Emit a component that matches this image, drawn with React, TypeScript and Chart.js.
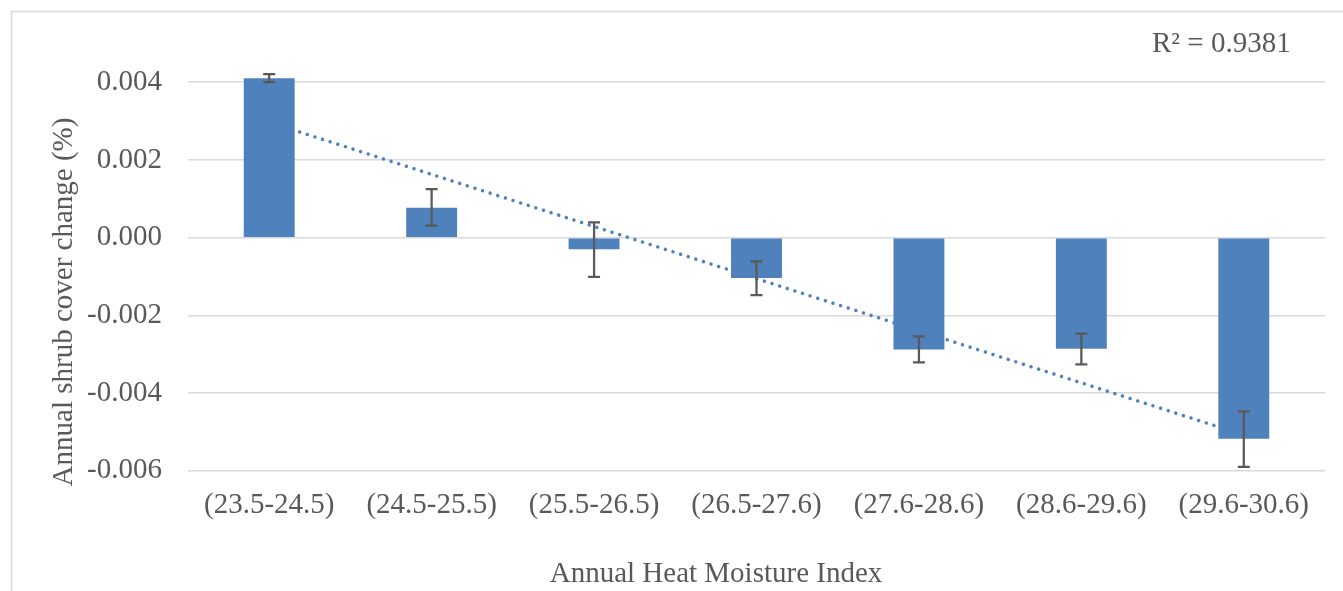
import { useEffect, useRef } from "react";
import { Chart, registerables } from "chart.js";

Chart.register(...registerables);

const categories = [
  "(23.5-24.5)",
  "(24.5-25.5)",
  "(25.5-26.5)",
  "(26.5-27.6)",
  "(27.6-28.6)",
  "(28.6-29.6)",
  "(29.6-30.6)",
];
const shrubChange = [0.0041, 0.00077, -0.0003, -0.00104, -0.00288, -0.00286, -0.00518];
const errorHigh = [0.00421, 0.00125, 0.00039, -0.00061, -0.00254, -0.00247, -0.00447];
const errorLow = [0.004, 0.00031, -0.00101, -0.00148, -0.00321, -0.00326, -0.0059];
const trendLine = [0.00297, null, null, null, null, null, -0.00508];
const yTicks = [-0.006, -0.004, -0.002, 0, 0.002, 0.004];
const yMin = -0.006;
const yMax = 0.005;
const rSquaredLabel = "R² = 0.9381";
const xTitle = "Annual Heat Moisture Index";
const yTitle = "Annual shrub cover change (%)";

const FONT = "'Liberation Serif', 'Times New Roman', serif";
const TEXT = "#595959";
const BLUE = "#4F81BD";

export default function App() {
  const ref = useRef<HTMLCanvasElement | null>(null);

  useEffect(() => {
    const canvas = ref.current;
    if (!canvas) return;

    const framePlugin = {
      id: "frame",
      beforeDraw(chart: any) {
        const ctx = chart.ctx;
        ctx.save();
        ctx.fillStyle = "#ffffff";
        ctx.fillRect(0, 0, chart.width, chart.height);
        ctx.strokeStyle = "#d9d9d9";
        ctx.lineWidth = 1.5;
        ctx.strokeRect(11.5, 11.5, chart.width + 20, chart.height + 20);
        ctx.restore();
      },
      afterDatasetsDraw(chart: any) {
        const ctx = chart.ctx;
        const meta = chart.getDatasetMeta(1);
        const yScale = chart.scales.y;
        ctx.save();
        ctx.strokeStyle = "#595959";
        ctx.lineWidth = 2.25;
        ctx.lineCap = "butt";
        meta.data.forEach((el: any, i: number) => {
          const x = el.x;
          const yh = yScale.getPixelForValue(errorHigh[i]);
          const yl = yScale.getPixelForValue(errorLow[i]);
          ctx.beginPath();
          ctx.moveTo(x, yh);
          ctx.lineTo(x, yl);
          ctx.moveTo(x - 6, yh);
          ctx.lineTo(x + 6, yh);
          ctx.moveTo(x - 6, yl);
          ctx.lineTo(x + 6, yl);
          ctx.stroke();
        });
        ctx.restore();
      },
      afterDraw(chart: any) {
        const ctx = chart.ctx;
        ctx.save();
        ctx.fillStyle = TEXT;
        ctx.font = `29px ${FONT}`;
        ctx.textBaseline = "alphabetic";
        ctx.textAlign = "left";
        ctx.fillText(rSquaredLabel, 1152, 52);
        ctx.textAlign = "center";
        ctx.fillText(xTitle, 716, 582);
        ctx.translate(72, 302);
        ctx.rotate(-Math.PI / 2);
        ctx.fillText(yTitle, 0, 0);
        ctx.restore();
      },
    };

    const chart = new Chart(canvas, {
      type: "bar",
      data: {
        labels: categories,
        datasets: [
          {
            type: "line",
            label: "Trend",
            data: trendLine as any,
            borderColor: BLUE,
            borderWidth: 3.5,
            borderDash: [0.001, 8],
            borderCapStyle: "round",
            pointRadius: 0,
            spanGaps: true,
            fill: false,
            order: 2,
          } as any,
          {
            type: "bar",
            label: "Shrub cover change",
            data: shrubChange,
            backgroundColor: BLUE,
            borderWidth: 0,
            categoryPercentage: 1,
            barPercentage: 0.3135,
            order: 1,
          },
        ],
      },
      options: {
        responsive: false,
        animation: false,
        devicePixelRatio: 1,
        layout: { padding: { left: 0, right: 18, top: 39, bottom: 0 } },
        plugins: {
          legend: { display: false },
          tooltip: { enabled: false },
          title: { display: false },
        },
        scales: {
          x: {
            grid: { display: false, drawTicks: false },
            border: { display: false },
            ticks: {
              color: TEXT,
              font: { family: FONT, size: 29 },
              padding: 17,
              maxRotation: 0,
              autoSkip: false,
            },
            afterFit(scale: any) {
              scale.height = 120.3;
            },
          },
          y: {
            min: yMin,
            max: yMax,
            grid: { color: "#d9d9d9", lineWidth: 1.5, drawTicks: false },
            border: { display: false },
            ticks: {
              color: TEXT,
              font: { family: FONT, size: 29 },
              padding: 26,
              callback: (v: any) => Number(v).toFixed(3),
            },
            afterBuildTicks(scale: any) {
              scale.ticks = yTicks.map((v) => ({ value: v }));
            },
            afterFit(scale: any) {
              scale.width = 188;
            },
          },
        },
      },
      plugins: [framePlugin],
    });

    return () => chart.destroy();
  }, []);

  return (
    <div style={{ position: "fixed", left: 0, top: 0, width: 1343, height: 591, background: "#fff" }}>
      <canvas ref={ref} width={1343} height={591} style={{ display: "block", width: 1343, height: 591 }} />
    </div>
  );
}
